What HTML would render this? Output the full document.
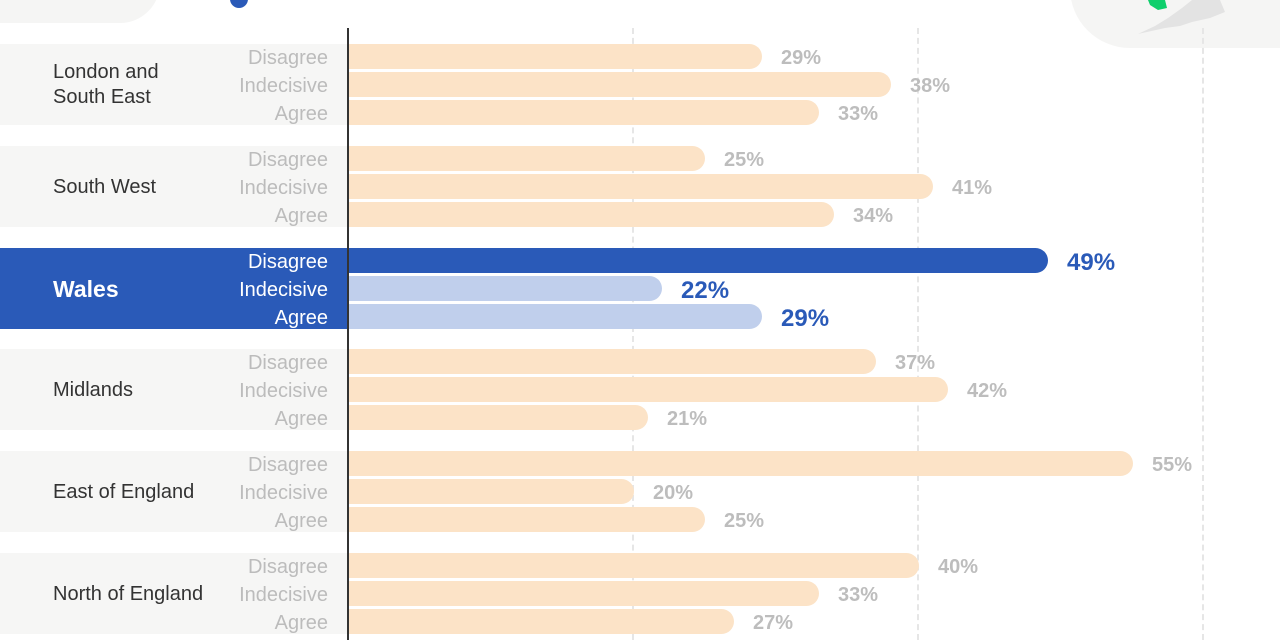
<!DOCTYPE html>
<html><head><meta charset="utf-8"><style>
body{margin:0;width:1280px;height:640px;overflow:hidden;background:#fff;font-family:"Liberation Sans",sans-serif;position:relative}
div{position:absolute}
.band{left:0;width:348px;height:81px;background:#f6f6f5}
.cat{left:53px;font-size:20px;color:#333;line-height:25px}
.sub{right:952px;font-size:20px;color:#bcbcbc;text-align:right;line-height:25px;white-space:nowrap}
.bar{left:348px;height:25px;background:#fce3c7;border-radius:0 13px 13px 0}
.val{font-size:20px;font-weight:bold;color:#bdbdbd;line-height:25px}
.vl{top:28px;height:612px;width:0;border-left:2px dashed #e6e6e6}
</style></head><body>
<div style="left:-40px;top:-60px;width:200px;height:83px;background:#f5f5f4;border-radius:0 0 40px 0"></div>
<div style="left:230px;top:-10px;width:18px;height:18px;border-radius:50%;background:#2a5ab8"></div>
<div style="left:1070px;top:-100px;width:300px;height:148px;background:#f5f5f4;border-radius:60px"></div>
<svg style="position:absolute;left:1130px;top:0" width="100" height="40"><path d="M8 34 L25 26 L38 18 L52 8 L62 0 L90 0 L95 12 L80 18 L62 22 L50 26 L35 28 Z" fill="#e3e3e3"/><path d="M18 0 L35 0 L37 8 L28 10 L20 5Z" fill="#0fcf6c"/></svg>
<div class="vl" style="left:632px"></div><div class="vl" style="left:917px"></div><div class="vl" style="left:1202px"></div>
<div style="left:347px;top:28px;width:2px;height:612px;background:#333;z-index:3"></div>
<div id="c"></div>
<script>
var d=[["London and<br>South East",[29,38,33]],["South West",[25,41,34]],["Wales",[49,22,29]],["Midlands",[37,42,21]],["East of England",[55,20,25]],["North of England",[40,33,27]]];
var h="",k=14.28,subs=["Disagree","Indecisive","Agree"];
d.forEach(function(g,i){var t=Math.round(44+i*101.8),w=i==2;
h+='<div class="band" style="top:'+t+'px;'+(w?'background:#2a5ab8':'')+'"></div>';
var two=g[0].indexOf("<br>")>0;
h+='<div class="cat" style="top:'+(t+(two?16:29))+'px;'+(w?'color:#fff;font-weight:bold;font-size:23px':'')+'">'+g[0]+'</div>';
g[1].forEach(function(v,j){var y=t+[0,28,56][j],bw=Math.round(v*k);
h+='<div class="sub" style="top:'+(y+2)+'px;'+(w?'color:#fff':'')+'">'+subs[j]+'</div>';
h+='<div class="bar" style="top:'+y+'px;width:'+bw+'px;'+(w?(j==0?'background:#2a5ab8':'background:#c0cfec'):'')+'"></div>';
h+='<div class="val" style="top:'+(y+2)+'px;left:'+(348+bw+19)+'px;'+(w?'color:#2a5ab8;font-size:24px':'')+'">'+v+'%</div>';});});
document.getElementById("c").outerHTML=h;
</script>
</body></html>
